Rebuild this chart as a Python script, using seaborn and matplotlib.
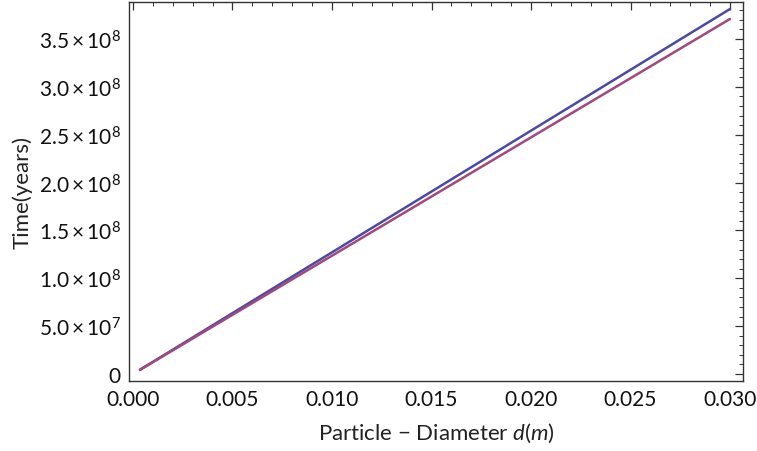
import numpy as np
import pandas as pd
import seaborn as sns
import matplotlib
matplotlib.use("Agg")
import matplotlib.pyplot as plt
from matplotlib.ticker import FuncFormatter, MultipleLocator

# Data
diameter = [0.00035, 0.005, 0.010, 0.015, 0.020, 0.025, 0.030]
time_blue = [4.4e6, 6.36e7, 1.271e8, 1.906e8, 2.542e8, 3.178e8, 3.813e8]
time_red = [4.3e6, 6.18e7, 1.236e8, 1.854e8, 2.472e8, 3.090e8, 3.709e8]
x_ticks = [0.000, 0.005, 0.010, 0.015, 0.020, 0.025, 0.030]
y_ticks = [0, 5e7, 1e8, 1.5e8, 2e8, 2.5e8, 3e8, 3.5e8]

sns.set_theme(style="white")
plt.rcParams['font.family'] = ['Lato', 'DejaVu Sans']
plt.rcParams['mathtext.fontset'] = 'custom'
plt.rcParams['mathtext.rm'] = 'Lato'
plt.rcParams['mathtext.it'] = 'Lato:italic'

df = pd.DataFrame({
    "d": diameter * 2,
    "t": time_blue + time_red,
    "series": ["a"] * len(diameter) + ["b"] * len(diameter),
})

fig = plt.figure(figsize=(7.57, 4.52), dpi=100)
ax = fig.add_axes([0.1704, 0.1549, 0.8111, 0.8385])
sns.lineplot(data=df, x="d", y="t", hue="series",
             palette={"a": "#4a4aa6", "b": "#a3487f"}, linewidth=1.8,
             legend=False, ax=ax)

ax.set_xlim(-0.0002, 0.03065)
ax.set_ylim(-7.3e6, 3.886e8)
ax.set_xticks(x_ticks)
ax.set_yticks(y_ticks)
ax.xaxis.set_minor_locator(MultipleLocator(0.001))
ax.yaxis.set_minor_locator(MultipleLocator(1e7))
ax.xaxis.set_major_formatter(FuncFormatter(lambda v, p: f"{v:.3f}"))

def yfmt(v, p):
    if abs(v) < 1:
        return "0"
    e = int(np.floor(np.log10(abs(v))))
    m = v / 10 ** e
    return r"$%.1f\times10^{%d}$" % (m, e)

ax.yaxis.set_major_formatter(FuncFormatter(yfmt))

for s in ax.spines.values():
    s.set_color("#333333")
    s.set_linewidth(1.0)
ax.tick_params(which="both", direction="in", top=True, right=True,
               color="#333333", labelsize=15, labelcolor="#111111")
ax.tick_params(which="major", length=6, width=0.9, pad=6)
ax.tick_params(which="minor", length=3, width=0.7)

ax.set_xlabel(r"Particle $-$ Diameter $d(m)$", fontsize=16, color="#222222", labelpad=8)
ax.set_ylabel("Time(years)", fontsize=16, color="#222222", labelpad=4)

fig.savefig("out.png", dpi=100)
